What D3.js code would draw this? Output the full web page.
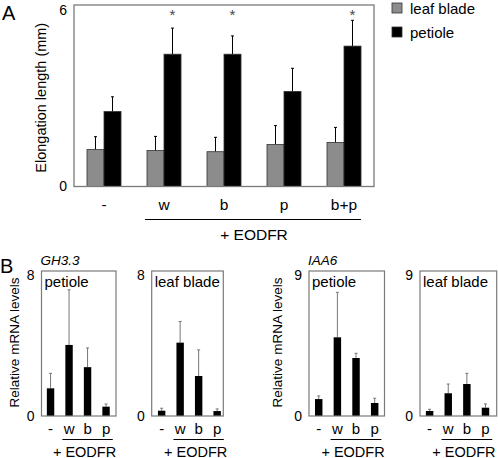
<!DOCTYPE html>
<html><head><meta charset="utf-8">
<script src="https://cdn.jsdelivr.net/npm/d3@7"></script>
<style>body{margin:0;background:#fff}svg{display:block;font-family:Arial,"Liberation Sans",sans-serif}</style>
</head><body><svg id="c" width="498" height="458"></svg>
<script>
// Panel A data
const catsA = ["-", "w", "b", "p", "b+p"];
const seriesA = ["leaf blade", "petiole"];
const leafBlade = [1.23, 1.20, 1.16, 1.40, 1.47];
const leafBladeErr = [0.43, 0.47, 0.48, 0.63, 0.50];
const petiole = [2.50, 4.41, 4.41, 3.17, 4.68];
const petioleErr = [0.49, 0.87, 0.61, 0.77, 0.86];
const sigA = [false, true, true, false, true];
const ticksA = [0, 6];

// Panel B data
const catsB = ["-", "w", "b", "p"];
const gh33Petiole = [1.57, 4.03, 2.77, 0.53];
const gh33PetioleErr = [0.85, 3.13, 1.09, 0.15];
const gh33Blade = [0.30, 4.16, 2.27, 0.28];
const gh33BladeErr = [0.14, 1.20, 1.48, 0.12];
const iaa6Petiole = [1.08, 5.02, 3.70, 0.83];
const iaa6PetioleErr = [0.20, 2.87, 0.30, 0.30];
const iaa6Blade = [0.32, 1.45, 2.04, 0.53];
const iaa6BladeErr = [0.11, 0.59, 0.68, 0.24];

const svg = d3.select("#c");
const boxColor = "#7a7a7a";
const fmt = d3.format("d");

// ---------- Panel A ----------
const A = {l: 74, r: 374, t: 5, b: 186.5};
const xA = d3.scaleBand().domain(catsA).range([A.l, A.r]).paddingInner(0.433).paddingOuter(0.2165);
const x1A = d3.scaleBand().domain(seriesA).range([0, xA.bandwidth()]);
const yA = d3.scaleLinear().domain([0, 6]).range([A.b, A.t + 1.5]);
const colA = {"leaf blade": "#8c8c8c", "petiole": "#000"};
const dataA = catsA.map((c, i) => ({c, vals: [
  {s: "leaf blade", v: leafBlade[i], e: leafBladeErr[i]},
  {s: "petiole", v: petiole[i], e: petioleErr[i]}]}));

svg.append("text").attr("x", 2).attr("y", 20).attr("font-size", 20).text("A");
svg.append("text").attr("transform", `translate(46,${(A.t + A.b) / 2 + 2}) rotate(-90)`)
  .attr("text-anchor", "middle").attr("font-size", 14.5).text("Elongation length (mm)");

const gA = svg.append("g");
gA.selectAll("g.grp").data(dataA).join("g").attr("class", "grp")
  .attr("transform", d => `translate(${xA(d.c)},0)`)
  .each(function(d) {
    const g = d3.select(this);
    g.selectAll("line.err").data(d.vals).join("line").attr("class", "err")
      .attr("x1", v => x1A(v.s) + x1A.bandwidth() / 2).attr("x2", v => x1A(v.s) + x1A.bandwidth() / 2)
      .attr("y1", v => yA(v.v)).attr("y2", v => yA(v.v + v.e)).attr("stroke", "#000").attr("stroke-width", 1);
    g.selectAll("line.cap").data(d.vals).join("line").attr("class", "cap")
      .attr("x1", v => x1A(v.s) + x1A.bandwidth() / 2 - 1.5).attr("x2", v => x1A(v.s) + x1A.bandwidth() / 2 + 1.5)
      .attr("y1", v => yA(v.v + v.e)).attr("y2", v => yA(v.v + v.e)).attr("stroke", "#000").attr("stroke-width", 1);
    g.selectAll("rect").data(d.vals).join("rect")
      .attr("x", v => x1A(v.s)).attr("width", x1A.bandwidth())
      .attr("y", v => yA(v.v)).attr("height", v => yA(0) - yA(v.v))
      .attr("fill", v => colA[v.s]).attr("stroke", "#333").attr("stroke-width", 0.8);
  });
gA.selectAll("text.sig").data(dataA.filter((d, i) => sigA[i])).join("text").attr("class", "sig")
  .attr("x", d => xA(d.c) + x1A("petiole") + x1A.bandwidth() / 2).attr("y", 20)
  .attr("text-anchor", "middle").attr("font-size", 15).attr("fill", "#444").text("*");
svg.append("rect").attr("x", A.l).attr("y", A.t).attr("width", A.r - A.l).attr("height", A.b - A.t)
  .attr("fill", "none").attr("stroke", boxColor).attr("stroke-width", 1.3);
const axA = d3.axisLeft(yA).tickValues(ticksA).tickFormat(fmt).tickSize(0).tickPadding(7);
svg.append("g").attr("transform", `translate(${A.l},0)`).call(axA)
  .call(g => { g.select(".domain").remove(); g.selectAll("text").attr("font-size", 14).attr("font-family", null).attr("fill", "#000"); })
  .call(g => g.selectAll(".tick").filter(v => v === 6).select("text").attr("dy", "0.6em"));
const axAx = d3.axisBottom(xA).tickSize(0).tickPadding(12);
svg.append("g").attr("transform", `translate(0,${A.b})`).call(axAx)
  .call(g => { g.select(".domain").remove(); g.selectAll("text").attr("font-size", 15.5).attr("font-family", null).attr("fill", "#000"); });
svg.append("line").attr("x1", xA("w") - 2).attr("x2", xA("b+p") + xA.bandwidth())
  .attr("y1", 219.5).attr("y2", 219.5).attr("stroke", "#000").attr("stroke-width", 1.2);
svg.append("text").attr("x", (xA("w") + xA("b+p") + xA.bandwidth()) / 2).attr("y", 240)
  .attr("text-anchor", "middle").attr("font-size", 15.5).text("+ EODFR");

// legend
const lg = svg.append("g").selectAll("g").data(seriesA).join("g")
  .attr("transform", (d, i) => `translate(392,${3 + i * 24})`);
lg.append("rect").attr("width", 10).attr("height", 10).attr("fill", d => colA[d]).attr("stroke", "#333").attr("stroke-width", 0.8);
lg.append("text").attr("x", 18).attr("y", 10.5).attr("font-size", 15).text(d => d);

// ---------- Panel B ----------
svg.append("text").attr("x", 0).attr("y", 273).attr("font-size", 20).text("B");
const panelsB = [
  {box: [41.5, 116], xr: [41.3, 115.3], vals: gh33Petiole, errs: gh33PetioleErr, max: 8, label: "petiole", gene: "GH3.3", ylab: 14},
  {box: [151.7, 223.3], xr: [152.4, 226.4], vals: gh33Blade, errs: gh33BladeErr, max: 8, label: "leaf blade"},
  {box: [309, 384.5], xr: [309.4, 384], vals: iaa6Petiole, errs: iaa6PetioleErr, max: 9, label: "petiole", gene: "IAA6", ylab: 277},
  {box: [420, 496.7], xr: [420.3, 494.8], vals: iaa6Blade, errs: iaa6BladeErr, max: 9, label: "leaf blade"}
];
const Bt = 271, Bb = 416;
panelsB.forEach(p => {
  const x = d3.scaleBand().domain(catsB).range(p.xr).paddingInner(0.6).paddingOuter(0.3);
  const y = d3.scaleLinear().domain([0, p.max * 1.028]).range([Bb, Bt]);
  const g = svg.append("g");
  const d = catsB.map((c, i) => ({c, v: p.vals[i], e: p.errs[i]}));
  g.selectAll("line.err").data(d).join("line").attr("class", "err")
    .attr("x1", v => x(v.c) + x.bandwidth() / 2).attr("x2", v => x(v.c) + x.bandwidth() / 2)
    .attr("y1", v => y(v.v)).attr("y2", v => y(v.v + v.e)).attr("stroke", "#777").attr("stroke-width", 1);
  g.selectAll("line.cap").data(d).join("line").attr("class", "cap")
    .attr("x1", v => x(v.c) + x.bandwidth() / 2 - 1.5).attr("x2", v => x(v.c) + x.bandwidth() / 2 + 1.5)
    .attr("y1", v => y(v.v + v.e)).attr("y2", v => y(v.v + v.e)).attr("stroke", "#777").attr("stroke-width", 1);
  g.selectAll("rect").data(d).join("rect")
    .attr("x", v => x(v.c)).attr("width", x.bandwidth())
    .attr("y", v => y(v.v)).attr("height", v => y(0) - y(v.v)).attr("fill", "#000");
  svg.append("rect").attr("x", p.box[0]).attr("y", Bt).attr("width", p.box[1] - p.box[0]).attr("height", Bb - Bt)
    .attr("fill", "none").attr("stroke", boxColor).attr("stroke-width", 1.2);
  svg.append("g").attr("transform", `translate(${p.box[0]},0)`)
    .call(d3.axisLeft(y).tickValues([0, p.max]).tickFormat(fmt).tickSize(0).tickPadding(7))
    .call(a => { a.select(".domain").remove(); a.selectAll("text").attr("font-size", 14).attr("font-family", null).attr("fill", "#000"); });
  svg.append("g").attr("transform", `translate(0,${Bb})`)
    .call(d3.axisBottom(x).tickSize(0).tickPadding(7))
    .call(a => { a.select(".domain").remove(); a.selectAll("text").attr("font-size", 15).attr("font-family", null).attr("fill", "#000"); });
  svg.append("line").attr("x1", x("w") - 3).attr("x2", x("p") + x.bandwidth() + 3)
    .attr("y1", 439.5).attr("y2", 439.5).attr("stroke", "#000").attr("stroke-width", 1.2);
  svg.append("text").attr("x", (x("w") + x("p") + x.bandwidth()) / 2 - 3).attr("y", 456.5)
    .attr("text-anchor", "middle").attr("font-size", 14.5).text("+ EODFR");
  svg.append("text").attr("x", p.box[0] + 3).attr("y", Bt + 15.5).attr("font-size", 15).text(p.label);
  if (p.gene) {
    svg.append("text").attr("x", p.box[0] - 1).attr("y", 265).attr("font-size", 13.5).attr("font-style", "italic").text(p.gene);
    svg.append("text").attr("transform", `translate(${p.ylab + 5},${(Bt + Bb) / 2 - 1}) rotate(-90)`)
      .attr("text-anchor", "middle").attr("font-size", 13.5).text("Relative mRNA levels");
  }
});
</script></body></html>
